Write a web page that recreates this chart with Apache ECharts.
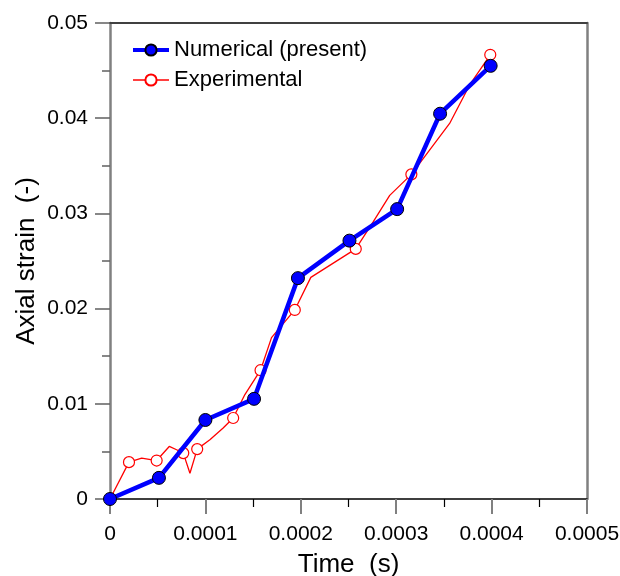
<!DOCTYPE html>
<html>
<head>
<meta charset="utf-8">
<script src="https://cdn.jsdelivr.net/npm/echarts@6/dist/echarts.min.js"></script>
<style>
html,body{margin:0;padding:0;background:#fff;}
#chart{width:620px;height:576px;}
</style>
</head>
<body>
<div id="chart"></div>
<script>
// Numerical (present) results
var numTime = [0, 0.0000513, 0.0001, 0.000151, 0.000197, 0.000251, 0.000301, 0.000346, 0.000399];
var numStrain = [0, 0.00222, 0.0083, 0.01052, 0.0232, 0.02714, 0.03045, 0.04047, 0.0455];

// Experimental curve (all vertices) and which vertices carry a marker
var expTime = [0, 0.0000199, 0.0000332, 0.0000489, 0.0000621, 0.0000698, 0.0000768, 0.0000838, 0.0000914,
  0.0001047, 0.0001186, 0.0001291, 0.0001414, 0.0001578, 0.0001693, 0.0001937, 0.0002105, 0.0002576,
  0.0002757, 0.0002932, 0.0003159, 0.000356, 0.000377, 0.0003986];
var expStrain = [0, 0.00387, 0.00429, 0.00404, 0.00552, 0.00517, 0.00482, 0.00271, 0.00524,
  0.00622, 0.00746, 0.00851, 0.01097, 0.01353, 0.01695, 0.01986, 0.02328, 0.02627,
  0.02908, 0.03189, 0.0341, 0.03945, 0.04349, 0.04666];
var expMarker = [0, 1, 0, 1, 0, 0, 1, 0, 1, 0, 0, 1, 0, 1, 0, 1, 0, 1, 0, 0, 1, 0, 0, 1];

var xTickLabels = ['0', '0.0001', '0.0002', '0.0003', '0.0004', '0.0005'];
var yTickLabels = ['0', '0.01', '0.02', '0.03', '0.04', '0.05'];

var FONT = 'Liberation Sans, Arial, sans-serif';

var numData = numTime.map(function (t, i) { return [t, numStrain[i]]; });
var expData = expTime.map(function (t, i) {
  var item = { value: [t, expStrain[i]] };
  if (!expMarker[i]) { item.symbol = 'none'; }
  return item;
});

var chart = echarts.init(document.getElementById('chart'));
chart.setOption({
  animation: false,
  backgroundColor: '#fff',
  grid: { left: 110, right: 33, top: 23, bottom: 77, outerBoundsMode: 'none', containLabel: false },
  legend: {
    orient: 'vertical',
    left: 126,
    top: 34,
    itemGap: 8,
    itemWidth: 36,
    itemHeight: 14,
    data: [
      { name: 'Numerical (present)', lineStyle: { width: 4 } },
      { name: 'Experimental', lineStyle: { width: 1.3 } }
    ],
    textStyle: { fontFamily: FONT, fontSize: 22, color: '#000' }
  },
  xAxis: [{
    type: 'value',
    min: 0, max: 0.0005, interval: 0.0001,
    name: 'Time  (s)',
    nameLocation: 'middle',
    nameGap: 53,
    nameMoveOverlap: false,
    nameTextStyle: { fontFamily: FONT, fontSize: 26, color: '#000' },
    axisLine: { show: true, onZero: false, lineStyle: { color: '#000', width: 1.5 } },
    axisTick: { show: true, inside: false, length: 15, lineStyle: { color: '#808080', width: 2 } },
    minorTick: { show: true, splitNumber: 2, length: 8, lineStyle: { color: '#000', width: 1.2 } },
    splitLine: { show: false },
    axisLabel: {
      margin: 25, fontFamily: FONT, fontSize: 21, color: '#000',
      formatter: function (v) { return xTickLabels[Math.round(v / 0.0001)]; }
    }
  }, {
    type: 'value', position: 'top',
    min: 0, max: 0.0005,
    axisLine: { show: true, onZero: false, lineStyle: { color: '#404040', width: 2 } },
    axisTick: { show: false }, axisLabel: { show: false }, splitLine: { show: false }
  }],
  yAxis: [{
    type: 'value',
    min: 0, max: 0.05, interval: 0.01,
    name: 'Axial strain  (-)',
    nameLocation: 'middle',
    nameGap: 70,
    nameMoveOverlap: false,
    nameTextStyle: { fontFamily: FONT, fontSize: 26, color: '#000' },
    axisLine: { show: true, onZero: false, lineStyle: { color: '#808080', width: 2.5 } },
    axisTick: { show: true, inside: false, length: 15, lineStyle: { color: '#606060', width: 1.5 } },
    minorTick: { show: true, splitNumber: 2, length: 8, lineStyle: { color: '#606060', width: 1.5 } },
    splitLine: { show: false },
    axisLabel: {
      margin: 22, fontFamily: FONT, fontSize: 21, color: '#000',
      formatter: function (v) { return yTickLabels[Math.round(v / 0.01)]; }
    }
  }, {
    type: 'value', position: 'right',
    min: 0, max: 0.05,
    axisLine: { show: true, onZero: false, lineStyle: { color: '#808080', width: 2.5 } },
    axisTick: { show: false }, axisLabel: { show: false }, splitLine: { show: false }
  }],
  series: [{
    name: 'Experimental',
    type: 'line',
    data: expData,
    z: 2,
    symbol: 'circle',
    symbolSize: 11,
    showAllSymbol: true,
    lineStyle: { color: '#ff0000', width: 1.3 },
    itemStyle: { color: '#ffffff', borderColor: '#ff0000', borderWidth: 1.2 }
  }, {
    name: 'Numerical (present)',
    type: 'line',
    data: numData,
    z: 3,
    symbol: 'circle',
    symbolSize: 13,
    showAllSymbol: true,
    lineStyle: { color: '#0000ff', width: 4.5 },
    itemStyle: { color: '#0000ff', borderColor: '#000', borderWidth: 1 }
  }]
});
</script>
</body>
</html>
